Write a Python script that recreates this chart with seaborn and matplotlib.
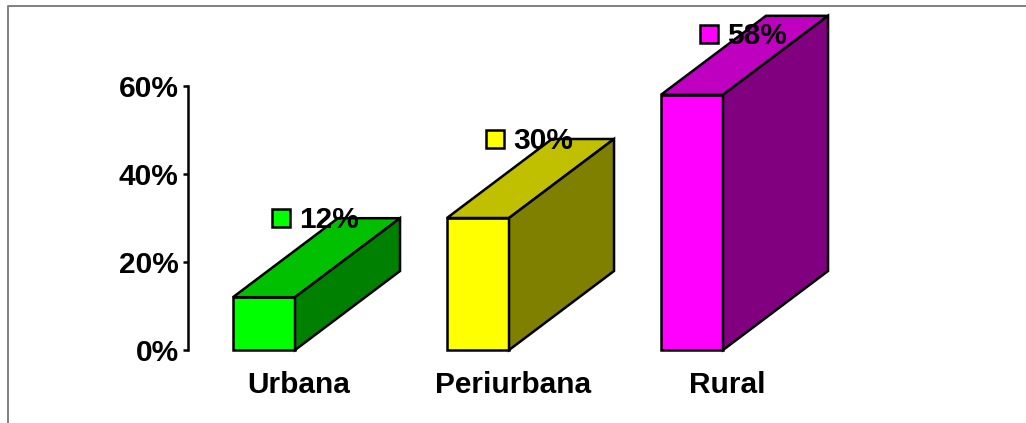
import matplotlib
matplotlib.use('Agg')
import matplotlib.pyplot as plt
import seaborn as sns
import pandas as pd
from matplotlib.lines import Line2D
from matplotlib.patches import Polygon
from matplotlib.transforms import ScaledTranslation

categories = ['Urbana', 'Periurbana', 'Rural']
values = [12, 30, 58]
y_ticks = [0, 20, 40, 60]
y_tick_labels = ['0%', '20%', '40%', '60%']
front_colors = ['#00ff00', '#ffff00', '#ff00ff']
top_colors = ['#00c000', '#c0c000', '#c000c0']
side_colors = ['#008000', '#808000', '#800080']

sns.set_style('white')
plt.rcParams['font.family'] = ['Liberation Sans', 'DejaVu Sans']
plt.rcParams['font.weight'] = 'bold'
plt.rcParams['font.size'] = 21.5

W, H = 1026, 423
lw = 1.8
fig = plt.figure(figsize=(W / 100, H / 100), dpi=100)
ax = fig.add_axes([188 / W, (H - 350) / H, (830 - 188) / W, (350 - 86) / H])

df = pd.DataFrame({'area': categories, 'share': values})
sns.barplot(data=df, x='area', y='share', hue='area', palette=front_colors, saturation=1,
            width=0.29, edgecolor='black', linewidth=lw, legend=False, ax=ax)

ax.set_xlim((188 - 264) / 214, (830 - 264) / 214)
ax.set_ylim(0, 60)
ax.set_xlabel('')
ax.set_ylabel('')
ax.set_yticks(y_ticks)
ax.set_yticklabels(y_tick_labels)
ax.set_xticks(range(len(categories)))
ax.set_xticklabels(categories)
ax.patch.set_alpha(0)
sns.despine(ax=ax, bottom=True)
ax.spines['left'].set_linewidth(lw)
ax.spines['left'].set_color('black')
ax.tick_params(axis='y', left=True, length=3.6, width=lw, pad=3.2, color='black', labelcolor='black')
ax.tick_params(axis='x', bottom=False, length=0, pad=15, labelcolor='black')

# x labels sit right of the front faces, under the whole box
shift = ScaledTranslation(35 / 100, 0, fig.dpi_scale_trans)
for lab in ax.get_xticklabels():
    lab.set_transform(lab.get_transform() + shift)

# depth of the fake 3d boxes
dx = 105 / 214
dy = 79 / 4.4
label_cap = 71.8

bars = ax.patches[:len(categories)]
bars = sorted(bars, key=lambda b: b.get_x())
for i, bar in enumerate(bars):
    bar.set_clip_on(False)
    bar.set_zorder(3)
    x0 = bar.get_x()
    x1 = x0 + bar.get_width()
    h = bar.get_height()
    ax.add_patch(Polygon([(x0, h), (x1, h), (x1 + dx, h + dy), (x0 + dx, h + dy)], closed=True,
                         facecolor=top_colors[i], edgecolor='black', linewidth=lw,
                         joinstyle='miter', clip_on=False, zorder=3))
    ax.add_patch(Polygon([(x1, 0), (x1 + dx, dy), (x1 + dx, h + dy), (x1, h)], closed=True,
                         facecolor=side_colors[i], edgecolor='black', linewidth=lw,
                         joinstyle='miter', clip_on=False, zorder=3))

    # data label with its small colour key
    key_x = i + 16.5 / 214
    key_y = min(h + dy, label_cap)
    ax.plot([key_x], [key_y], marker='s', markersize=13.5, markerfacecolor=front_colors[i],
            markeredgecolor='black', markeredgewidth=lw, linestyle='none', clip_on=False, zorder=4)
    ax.annotate(f'{values[i]}%', (key_x, key_y), xytext=(19 * 0.72, -1.2), textcoords='offset points',
                ha='left', va='center', color='black', zorder=5, annotation_clip=False)

# thin grey frame, only top and left show up
fig.add_artist(Line2D([8 / W, 8 / W, 1], [0, 1 - 6.5 / H, 1 - 6.5 / H], color='#808080', linewidth=1.4))

fig.savefig('out.png', dpi=100)
